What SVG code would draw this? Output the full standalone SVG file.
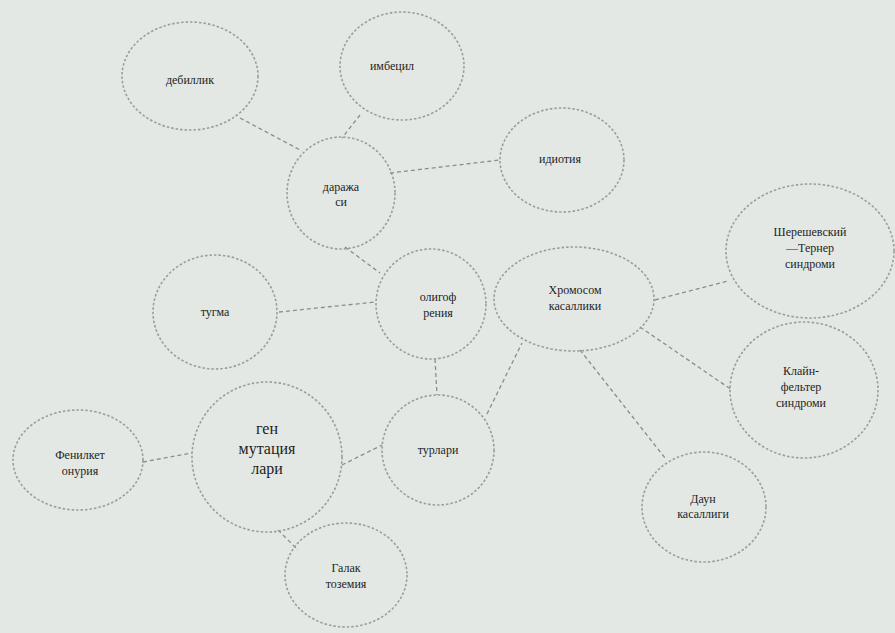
<svg xmlns="http://www.w3.org/2000/svg" width="895" height="633" viewBox="0 0 895 633">
<style>
.n{fill:none;stroke:#9a9e9b;stroke-width:1.6;stroke-dasharray:2.5 2}
.c{stroke:#8a8e8b;stroke-width:1.3;stroke-dasharray:4 3;fill:none}
text{font-family:"Liberation Serif","DejaVu Serif",serif;font-size:12px;fill:#1e1e1e;text-anchor:middle}
.big{font-size:16px}
</style>
<rect width="895" height="633" fill="#e3e8e4"/>
<g id="connectors">
<line class="c" x1="240" y1="118" x2="302" y2="151"/>
<line class="c" x1="360" y1="115" x2="342" y2="138"/>
<line class="c" x1="390" y1="173" x2="500" y2="160"/>
<line class="c" x1="345" y1="247" x2="380" y2="273"/>
<line class="c" x1="279" y1="312" x2="375" y2="302"/>
<line class="c" x1="435" y1="359" x2="437" y2="395"/>
<line class="c" x1="487" y1="414" x2="522" y2="343"/>
<line class="c" x1="655" y1="300" x2="728" y2="281"/>
<line class="c" x1="640" y1="327" x2="732" y2="390"/>
<line class="c" x1="580" y1="350" x2="665" y2="458"/>
<line class="c" x1="143" y1="462" x2="192" y2="453"/>
<line class="c" x1="342" y1="465" x2="382" y2="445"/>
<line class="c" x1="278" y1="530" x2="298" y2="550"/>
</g>
<g id="debillik"><ellipse class="n" cx="190" cy="76" rx="68" ry="54"/><text x="190" y="84">дебиллик</text></g>
<g id="imbetsil"><ellipse class="n" cx="402" cy="66" rx="62" ry="54"/><text x="392" y="70">имбецил</text></g>
<g id="darajasi"><ellipse class="n" cx="341" cy="193" rx="54" ry="56"/><text x="341" y="191">даража</text><text x="341" y="206">си</text></g>
<g id="idiotiya"><ellipse class="n" cx="562" cy="160" rx="62" ry="52"/><text x="560" y="163">идиотия</text></g>
<g id="tugma"><ellipse class="n" cx="215" cy="312" rx="62" ry="57"/><text x="215" y="316">тугма</text></g>
<g id="oligofreniya"><ellipse class="n" cx="431" cy="304" rx="55" ry="55"/><text x="438" y="301">олигоф</text><text x="438" y="317">рения</text></g>
<g id="xromosom"><ellipse class="n" cx="574" cy="299" rx="80" ry="52"/><text x="575" y="294">Хромосом</text><text x="575" y="310">касаллики</text></g>
<g id="shereshevskiy"><ellipse class="n" cx="810" cy="251" rx="84" ry="67"/><text x="810" y="236">Шерешевский</text><text x="810" y="252">—Тернер</text><text x="810" y="268">синдроми</text></g>
<g id="klaynfelter"><ellipse class="n" cx="804" cy="390" rx="74" ry="68"/><text x="801" y="375">Клайн-</text><text x="801" y="391">фельтер</text><text x="801" y="407">синдроми</text></g>
<g id="daun"><ellipse class="n" cx="704" cy="507" rx="62" ry="55"/><text x="703" y="503">Даун</text><text x="703" y="518">касаллиги</text></g>
<g id="fenilketonuriya"><ellipse class="n" cx="78" cy="460" rx="65" ry="50"/><text x="80" y="459">Фенилкет</text><text x="80" y="475">онурия</text></g>
<g id="genmutatsiya"><ellipse class="n" cx="267" cy="457" rx="75" ry="75"/><text class="big" x="267" y="434">ген</text><text class="big" x="267" y="454">мутация</text><text class="big" x="267" y="474">лари</text></g>
<g id="turlari"><ellipse class="n" cx="438" cy="450" rx="56" ry="55"/><text x="438" y="454">турлари</text></g>
<g id="galaktozemiya"><ellipse class="n" cx="346" cy="575" rx="61" ry="52"/><text x="346" y="572">Галак</text><text x="346" y="588">тоземия</text></g>
</svg>
